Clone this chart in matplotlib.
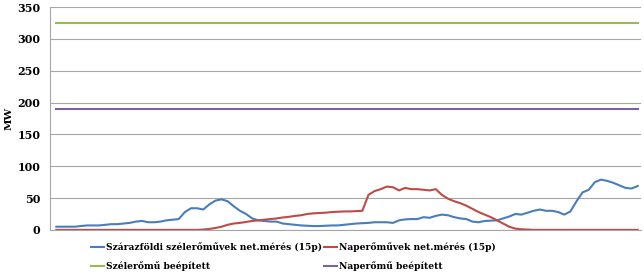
import matplotlib.pyplot as plt
import numpy as np

# 15-minute readings over one day (96 points)
szel = [5, 5, 5, 5, 6, 7, 7, 7, 8, 9, 9, 10, 11, 13, 14, 12, 12, 13, 15, 16,
        17, 28, 34, 34, 32, 40, 46, 48, 45, 37, 30, 25, 18, 15, 14, 13, 13, 10, 9, 8,
        7, 6.5, 6, 6, 6.5, 7, 7, 8, 9, 10, 10.5, 11, 12, 12, 12, 11, 15, 16.5, 17, 17,
        20, 19, 22, 24, 23, 20, 18, 17, 13, 12, 14, 14.5, 15, 18, 21, 25, 24, 27, 30, 32,
        30, 30, 28, 24, 29, 45, 59, 63, 75, 79, 77, 74, 70, 66, 65, 69]
nap = [0] * 24 + [0.5, 1.5, 3, 5, 8, 10, 11, 12.5, 14, 15, 16, 17, 18, 19.5, 20.5, 22,
       23, 25, 26, 26.5, 27, 28, 28.5, 29, 29, 29.5, 30, 55, 61, 64, 68, 67, 62, 66, 64, 64,
       63, 62, 64, 55, 49, 45, 42, 38, 33, 28, 24, 20, 15, 10, 5, 2, 1, 0.5] + [0] * 18
szel_beep = 325
nap_beep = 190

labels = ["Szárazföldi szélerőművek net.mérés (15p)", "Naperőművek net.mérés (15p)",
          "Szélerőmű beépített", "Naperőmű beépített"]
colors = ["#4A7EBB", "#BE4B48", "#98B954", "#7D60A0"]

font = "DejaVu Serif"
fig = plt.figure(figsize=(6.44, 2.74), dpi=100)
ax = fig.add_axes([0.078, 0.161, 0.917, 0.813])

x = np.arange(len(szel))
l1, = ax.plot(x, szel, color=colors[0], lw=1.5)
l2, = ax.plot(x, nap, color=colors[1], lw=1.5)
l3, = ax.plot(x, [szel_beep] * len(x), color=colors[2], lw=1.5)
l4, = ax.plot(x, [nap_beep] * len(x), color=colors[3], lw=1.5)

ax.set_xlim(-1, len(x) - 0.5)
ax.set_ylim(0, 350)
ax.set_yticks(range(0, 351, 50))
ax.set_xticks([])
ax.grid(axis="y", color="#a6a6a6", lw=0.8)
ax.set_axisbelow(True)
for s in ["top", "right"]:
    ax.spines[s].set_visible(False)
ax.spines["left"].set_color("#a6a6a6")
ax.spines["bottom"].set_color("#a6a6a6")
ax.tick_params(axis="y", length=0, pad=7)
for t in ax.get_yticklabels():
    t.set_fontfamily(font)
    t.set_fontweight("bold")
    t.set_fontsize(8)
ax.set_ylabel("MW", fontfamily=font, fontweight="bold", fontsize=7.5, labelpad=3)

fig.legend([l1, l3, l2, l4], [labels[0], labels[2], labels[1], labels[3]],
           ncol=2, loc="upper left", bbox_to_anchor=(0.142, 0.114), frameon=False,
           prop={"family": font, "weight": "bold", "size": 6.6},
           handlelength=1.4, handletextpad=0.15, columnspacing=0.3,
           labelspacing=1.0, borderaxespad=0, borderpad=0)

fig.savefig("out.png", dpi=100)
